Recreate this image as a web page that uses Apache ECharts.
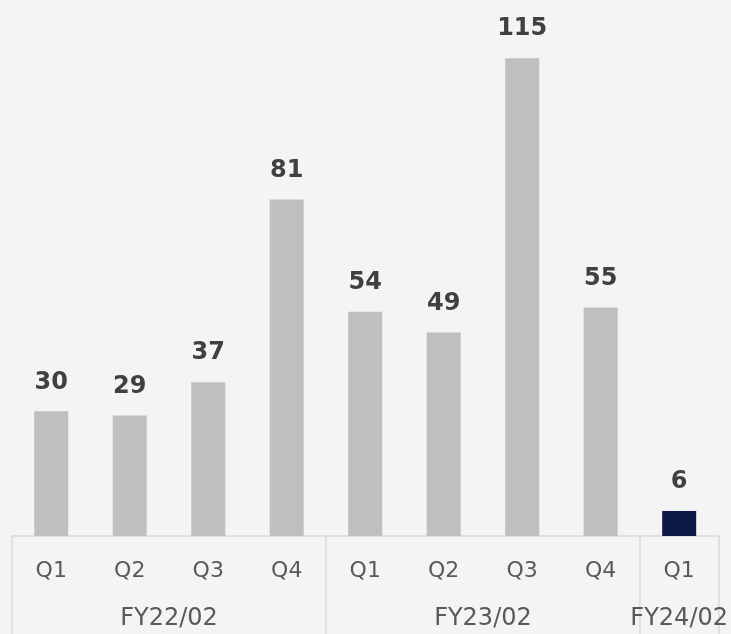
<!DOCTYPE html>
<html>
<head>
<meta charset="utf-8">
<script src="https://cdn.jsdelivr.net/npm/echarts@6/dist/echarts.min.js"></script>
<style>
  html, body { margin: 0; padding: 0; background: #f4f4f4; }
  #chart { width: 731px; height: 634px; }
</style>
</head>
<body>
<div id="chart"></div>
<script>
// Quarterly values, grouped by fiscal year
const quarters = ['Q1', 'Q2', 'Q3', 'Q4', 'Q1', 'Q2', 'Q3', 'Q4', 'Q1'];
const values = [30, 29, 37, 81, 54, 49, 115, 55, 6];
const fiscalYears = ['FY22/02', 'FY23/02', 'FY24/02'];
// Each fiscal year's span, counted in quarters along the axis
const fiscalSpans = [[0, 4], [4, 8], [8, 9]];

const GREY = '#bfbfbf';
const NAVY = '#0c1846';
const lastIndex = values.length - 1;

// Label positions (centre of each span) and separators (span edges)
const fyCentres = fiscalSpans.map(s => (s[0] + s[1]) / 2);
const fyEdges = [fiscalSpans[0][0]].concat(fiscalSpans.map(s => s[1]));

const chart = echarts.init(document.getElementById('chart'), null, { renderer: 'canvas' });

chart.setOption({
  backgroundColor: '#f4f4f4',
  animation: false,
  grid: { left: 12, right: 12, top: 0, bottom: 98, containLabel: false },
  xAxis: [
    {
      type: 'category',
      data: quarters,
      position: 'bottom',
      axisLine: { show: true, lineStyle: { color: '#d9d9d9', width: 1.5 } },
      axisTick: { show: false },
      axisLabel: {
        color: '#595959',
        fontFamily: 'DejaVu Sans',
        fontSize: 22,
        margin: 24
      }
    },
    {
      type: 'value',
      min: 0,
      max: quarters.length,
      position: 'bottom',
      splitLine: { show: false },
      axisLine: { show: false },
      axisTick: {
        show: true,
        customValues: fyEdges,
        length: 98,
        lineStyle: { color: '#d9d9d9', width: 1.5 }
      },
      axisLabel: {
        customValues: fyCentres,
        color: '#595959',
        fontFamily: 'DejaVu Sans',
        fontSize: 24,
        margin: 71,
        formatter: v => {
          const i = fyCentres.indexOf(v);
          return i >= 0 ? fiscalYears[i] : '';
        }
      }
    }
  ],
  yAxis: {
    type: 'value',
    min: 0,
    max: 129,
    show: false,
    splitLine: { show: false }
  },
  series: [
    {
      type: 'bar',
      xAxisIndex: 0,
      data: values.map((v, i) => ({
        value: v,
        itemStyle: { color: i === lastIndex ? NAVY : GREY }
      })),
      barWidth: 34,
      label: {
        show: true,
        position: 'top',
        distance: 17,
        color: '#404040',
        fontFamily: 'DejaVu Sans',
        fontWeight: 'bold',
        fontSize: 24
      }
    }
  ]
});
</script>
</body>
</html>
